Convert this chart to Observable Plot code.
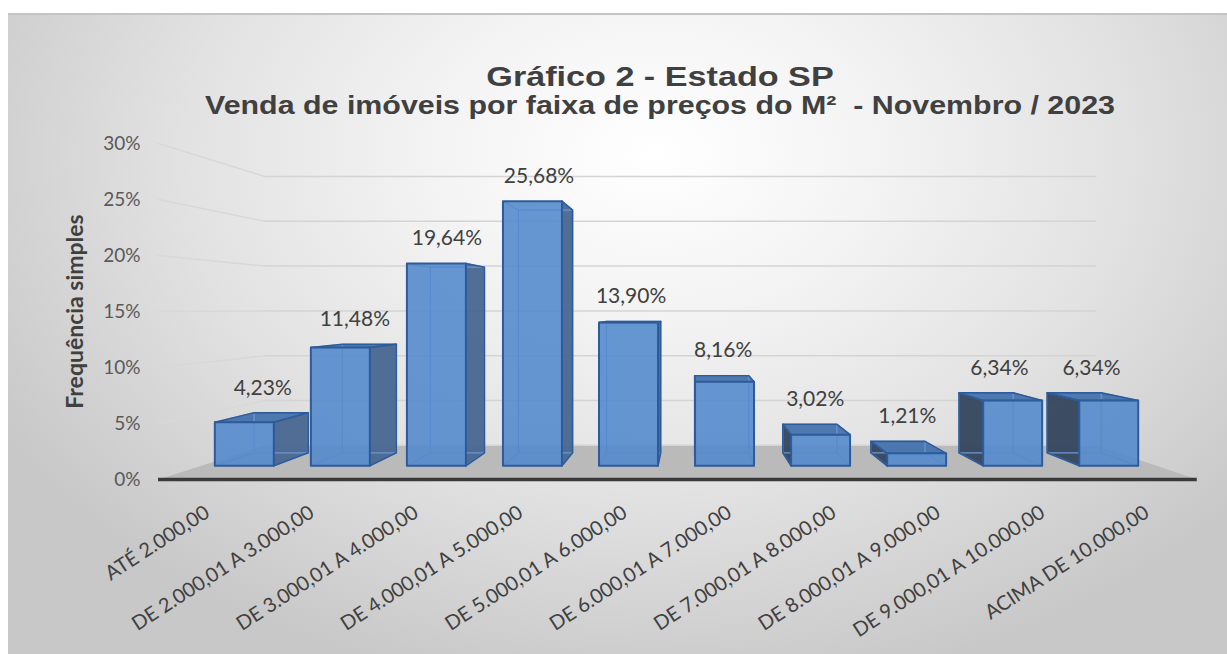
<!DOCTYPE html>
<html>
<head>
<meta charset="utf-8">
<script src="https://cdn.jsdelivr.net/npm/d3@7"></script>
<script src="https://cdn.jsdelivr.net/npm/@observablehq/plot@0.6"></script>
<style>
  html, body { margin: 0; padding: 0; background: #ffffff; }
  body { width: 1227px; height: 654px; overflow: hidden; position: relative; }
  #frame {
    position: absolute; left: 8px; top: 13px; width: 1219px; height: 641px;
    background: radial-gradient(ellipse 62% 85% at 53% 22%, #ffffff 0%, #f3f3f3 30%, #e2e2e2 62%, #c8c8c8 100%);
    box-shadow: inset 0 2px 0 #c4c4c4;
  }
  #titles { position: relative; height: 115px; }
  .t1, .t2 {
    position: absolute; left: 0; width: 1304px; text-align: center;
    font-family: "Liberation Sans", Arial, sans-serif; font-weight: bold; color: #404040;
    white-space: nowrap; transform-origin: 50% 50%;
  }
  .t1 { top: 53px; font-size: 27px; line-height: 22px; transform: scaleX(1.265); }
  .t2 { top: 81px; font-size: 25px; line-height: 22px; transform: scaleX(1.215); }
  #chart { position: relative; }
</style>
</head>
<body>
<div id="frame">
  <div id="titles">
    <div class="t1">Gráfico 2 - Estado SP</div>
    <div class="t2">Venda de imóveis por faixa de preços do M²&nbsp; - Novembro / 2023</div>
  </div>
  <div id="chart"></div>
</div>
<script>
// ---- data ----
const categories = [
  "ATÉ 2.000,00",
  "DE 2.000,01 A 3.000,00",
  "DE 3.000,01 A 4.000,00",
  "DE 4.000,01 A 5.000,00",
  "DE 5.000,01 A 6.000,00",
  "DE 6.000,01 A 7.000,00",
  "DE 7.000,01 A 8.000,00",
  "DE 8.000,01 A 9.000,00",
  "DE 9.000,01 A 10.000,00",
  "ACIMA DE 10.000,00"
];
const values = [4.23, 11.48, 19.64, 25.68, 13.90, 8.16, 3.02, 1.21, 6.34, 6.34];
const valueLabels = ["4,23%", "11,48%", "19,64%", "25,68%", "13,90%", "8,16%", "3,02%", "1,21%", "6,34%", "6,34%"];
const yTicks = [0, 5, 10, 15, 20, 25, 30];
const yTickLabels = ["0%", "5%", "10%", "15%", "20%", "25%", "30%"];
const yTitle = "Frequência simples";

// ---- 3D projection (perspective toward a vanishing point, in data units) ----
const VX = 4.646, VY = 15.27;           // vanishing point
const SF = 0.92, SB = 0.844, SW = 0.80; // depth factors: bar front, bar back, back wall
const H = 0.307;                         // half bar width
const XL = -0.45, XR = 9.5;              // floor extent
const P = (x, y, s) => ({x: VX + s * (x - VX), y: VY + s * (y - VY)});
const poly = (id, pts, closed = true) => (closed ? [...pts, pts[0]] : pts).map(p => ({id, x: p.x, y: p.y}));

const fronts = [], rightSides = [], leftSides = [], tops = [], inner = [], labelPts = [];
values.forEach((v, i) => {
  const fbl = P(i - H, 0, SF), fbr = P(i + H, 0, SF), ftr = P(i + H, v, SF), ftl = P(i - H, v, SF);
  const bbl = P(i - H, 0, SB), bbr = P(i + H, 0, SB), btr = P(i + H, v, SB), btl = P(i - H, v, SB);
  fronts.push(...poly("f" + i, [fbl, fbr, ftr, ftl]));
  if (i + H < VX) rightSides.push(...poly("r" + i, [fbr, bbr, btr, ftr]));
  if (i - H > VX) leftSides.push(...poly("l" + i, [fbl, bbl, btl, ftl]));
  if (v < VY) tops.push(...poly("t" + i, [ftl, ftr, btr, btl]));
  inner.push(...poly("b" + i, [bbl, bbr, btr, btl]));
  inner.push(...poly("c1" + i, [fbl, bbl], false));
  inner.push(...poly("c2" + i, [fbr, bbr], false));
  inner.push(...poly("c3" + i, [ftr, btr], false));
  inner.push(...poly("c4" + i, [ftl, btl], false));
  const fc = P(i, v, SF), bc = P(i, v, SB);
  labelPts.push({x: (fc.x + bc.x) / 2, y: Math.max(fc.y, bc.y), text: valueLabels[i]});
});

const floor = poly("floor", [P(XL, 0, 1), P(XR, 0, 1), P(XR, 0, SW), P(XL, 0, SW)]);
const gridBack = yTicks.flatMap(t => poly("gb" + t, [P(XL, t, SW), P(XR, t, SW)], false));
const gridLeft = yTicks.filter(t => t > 0).flatMap(t => poly("gl" + t, [P(XL, t, 1), P(XL, t, SW)], false));

const EDGE = "#2e5b9a";

const chart = Plot.plot({
  width: 1219,
  height: 526,
  marginLeft: 197,
  marginRight: 82.4,
  marginTop: 15,
  marginBottom: 175,
  x: {domain: [0, 9], axis: null},
  y: {domain: [0, 30], axis: null},
  style: {background: "transparent", fontFamily: "Lato, 'Open Sans', sans-serif", color: "#595959", overflow: "visible"},
  marks: [
    Plot.line(floor, {x: "x", y: "y", z: "id", fill: "#bababa", stroke: "none"}),
    Plot.line(gridBack, {x: "x", y: "y", z: "id", stroke: "#d4d4d4", strokeWidth: 1.5}),
    Plot.line(gridLeft, {x: "x", y: "y", z: "id", stroke: "#d8d8d8", strokeWidth: 1.5}),
    Plot.ruleY([0], {x1: XL, x2: XR, stroke: "#3a3a3a", strokeWidth: 3.5}),
    Plot.axisY({ticks: yTicks, tickFormat: (d) => yTickLabels[yTicks.indexOf(d)], tickSize: 0, tickPadding: 65, fontSize: 19, fill: "#595959", label: null}),
    Plot.axisX({ticks: d3.range(categories.length), tickFormat: (i) => categories[i], tickRotate: -33, tickSize: 0, tickPadding: 31, dx: 2, fontSize: 20, fill: "#404040", label: null}),
    Plot.text([yTitle], {text: (d) => d, frameAnchor: "left", textAnchor: "middle", rotate: -90, dx: -130, dy: 0, fontSize: 23, fontWeight: "bold", fill: "#404040"}),
    // bars (3D boxes)
    Plot.line(rightSides, {x: "x", y: "y", z: "id", fill: "#486690", fillOpacity: 0.95, stroke: "none"}),
    Plot.line(leftSides, {x: "x", y: "y", z: "id", fill: "#33445d", fillOpacity: 0.95, stroke: "none"}),
    Plot.line(tops, {x: "x", y: "y", z: "id", fill: "#4672ad", fillOpacity: 0.95, stroke: "none"}),
    Plot.line(inner, {x: "x", y: "y", z: "id", stroke: "#6d98d0", strokeWidth: 1.2}),
    Plot.line(rightSides, {x: "x", y: "y", z: "id", stroke: EDGE, strokeWidth: 1.6}),
    Plot.line(leftSides, {x: "x", y: "y", z: "id", stroke: EDGE, strokeWidth: 1.6}),
    Plot.line(tops, {x: "x", y: "y", z: "id", stroke: EDGE, strokeWidth: 1.6}),
    Plot.line(fronts, {x: "x", y: "y", z: "id", fill: "#5289cc", fillOpacity: 0.88, stroke: EDGE, strokeWidth: 2}),
    Plot.text(labelPts, {x: "x", y: "y", text: "text", dy: -25, fontSize: 21, fill: "#404040"})
  ]
});
document.getElementById("chart").appendChild(chart);
</script>
</body>
</html>
